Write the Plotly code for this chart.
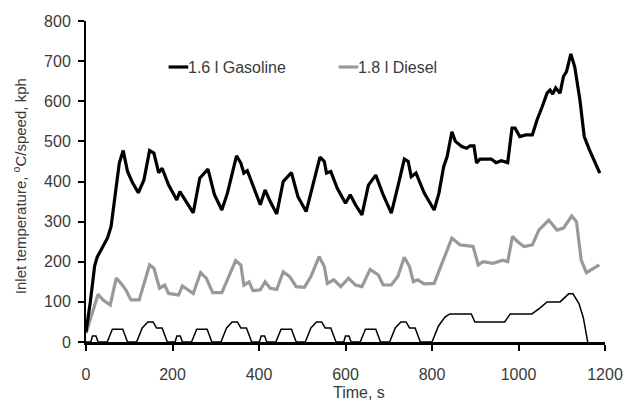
import plotly.graph_objects as go

# Gasoline (1.6 l) inlet temperature, degC
gas_t = [0, 10, 20, 26, 36, 50, 58, 62, 70, 77, 86, 96, 108, 121, 134, 147, 157, 168, 176, 191,
         210, 217, 229, 248, 263, 282, 297, 314, 327, 348, 358, 365, 373, 388, 403, 414, 426, 441,
         456, 475, 490, 509, 524, 541, 551, 556, 566, 581, 600, 611, 623, 638, 653, 670, 687, 706,
         721, 736, 745, 752, 763, 782, 805, 816, 827, 835, 846, 854, 869, 880, 888, 897, 903, 911,
         937, 948, 960, 975, 985, 992, 1003, 1017, 1032, 1043, 1055, 1066, 1073, 1079, 1086, 1096,
         1104, 1111, 1121, 1130, 1142, 1152, 1164, 1188]
gas_v = [25, 100, 190, 212, 232, 260, 288, 321, 396, 446, 477, 425, 396, 372, 404, 477, 471, 422, 433, 391,
         354, 375, 354, 322, 408, 431, 367, 329, 371, 464, 446, 421, 427, 383, 342, 379, 350, 319,
         400, 422, 362, 325, 387, 461, 450, 421, 425, 383, 346, 367, 342, 317, 391, 416, 367, 321,
         387, 456, 450, 412, 421, 371, 329, 371, 437, 462, 524, 500, 487, 483, 489, 489, 446, 456,
         456, 447, 452, 447, 533, 533, 512, 516, 516, 554, 587, 620, 628, 618, 633, 620,
         662, 674, 718, 686, 603, 512, 479, 421]

# Diesel (1.8 l) inlet temperature, degC
die_t = [0, 17, 28, 39, 56, 70, 81, 92, 104, 123, 134, 147, 157, 170, 182, 191, 214, 223, 248, 265,
         278, 293, 314, 327, 346, 358, 365, 377, 386, 403, 414, 426, 441, 456, 471, 486, 505, 520,
         539, 551, 558, 573, 589, 607, 623, 638, 657, 676, 687, 706, 721, 736, 748, 757, 767, 782,
         805, 823, 846, 865, 895, 907, 918, 941, 964, 975, 986, 998, 1013, 1032, 1047, 1070, 1089,
         1104, 1123, 1134, 1145, 1157, 1168, 1187]
die_v = [22, 80, 119, 105, 92, 159, 146, 130, 105, 105, 146, 192, 184, 134, 142, 121, 117, 140, 121, 173,
         159, 123, 123, 155, 203, 192, 142, 150, 128, 130, 150, 134, 131, 175, 163, 138, 136, 163,
         213, 188, 146, 155, 138, 159, 142, 138, 181, 167, 142, 142, 163, 211, 188, 150, 155, 145,
         146, 196, 259, 242, 238, 192, 200, 196, 204, 200, 263, 250, 238, 242, 279, 304, 279,
         284, 314, 300, 204, 173, 180, 192]

# Vehicle speed, kph (NEDC)
spd_t = [0, 11, 15, 23, 28, 49, 61, 85, 96, 117, 130, 143, 155, 163, 176, 188,
         195, 206, 210, 218, 223, 244, 256, 280, 291, 312, 325, 338, 350, 358, 371, 383,
         390, 401, 405, 413, 418, 439, 451, 475, 486, 507, 520, 533, 545, 553, 566, 578,
         585, 596, 600, 608, 613, 634, 646, 670, 681, 702, 715, 728, 740, 748, 761, 773,
         800, 815, 830, 841, 891, 899, 968, 981, 1031, 1050, 1066, 1096, 1116, 1126, 1140, 1150, 1160]
spd_v = [0, 0, 15, 15, 0, 0, 32, 32, 0, 0, 35, 50, 50, 35, 35, 0,
         0, 0, 15, 15, 0, 0, 32, 32, 0, 0, 35, 50, 50, 35, 35, 0,
         0, 0, 15, 15, 0, 0, 32, 32, 0, 0, 35, 50, 50, 35, 35, 0,
         0, 0, 15, 15, 0, 0, 32, 32, 0, 0, 35, 50, 50, 35, 35, 0,
         0, 40, 62, 70, 70, 50, 50, 70, 70, 85, 100, 100, 120, 120, 95, 60, 0]

x_ticks = [0, 200, 400, 600, 800, 1000, 1200]
y_ticks = [0, 100, 200, 300, 400, 500, 600, 700, 800]

FONT = "Liberation Sans, Arial, sans-serif"
TXT = "#3a3a3a"

fig = go.Figure()
fig.add_trace(go.Scatter(x=spd_t, y=spd_v, mode="lines",
                         line=dict(color="black", width=1.5), showlegend=False))
fig.add_trace(go.Scatter(x=die_t, y=die_v, mode="lines",
                         line=dict(color="#999999", width=3.2), showlegend=False))
fig.add_trace(go.Scatter(x=gas_t, y=gas_v, mode="lines",
                         line=dict(color="black", width=3.2), showlegend=False))

fig.update_layout(
    width=635, height=401,
    margin=dict(l=86, r=21, t=21, b=59),
    paper_bgcolor="white", plot_bgcolor="white",
    font=dict(family=FONT, size=16, color=TXT),
    showlegend=False,
)
fig.update_xaxes(range=[0, 1200], tickvals=x_ticks, ticks="outside", ticklen=6,
                 tickwidth=2, tickcolor="black", showline=True, linecolor="black",
                 linewidth=3, showgrid=False, zeroline=False, ticklabelstandoff=10,
                 tickfont=dict(size=16, color=TXT, family=FONT))
fig.update_yaxes(range=[0, 800], tickvals=y_ticks, ticks="outside", ticklen=6,
                 tickwidth=2, tickcolor="black", showline=True, linecolor="black",
                 linewidth=2, showgrid=False, zeroline=False, ticklabelstandoff=4,
                 tickfont=dict(size=16, color=TXT, family=FONT))

# axis titles
fig.add_annotation(text="Time, s", xref="paper", yref="paper", x=(364 - 86) / 528,
                   y=-(393 - 342) / 321, showarrow=False, xanchor="center", yanchor="middle",
                   font=dict(size=16, color=TXT, family=FONT))
fig.add_annotation(text="Inlet temperature, <sup>o</sup>C/speed, kph", xref="paper", yref="paper",
                   x=(19 - 86) / 528, y=(342 - 186) / 321, showarrow=False, textangle=-90,
                   xanchor="center", yanchor="middle", font=dict(size=15, color=TXT, family=FONT))

# manual legend
legend_items = [("1.6 l Gasoline", "black", 170), ("1.8 l Diesel", "#999999", 343)]
ly = (342 - 67) / 321
for name, col, px in legend_items:
    x0 = (px - 86) / 528
    x1 = (px + 20 - 86) / 528
    fig.add_shape(type="line", xref="paper", yref="paper", x0=x0, x1=x1, y0=ly, y1=ly,
                  line=dict(color=col, width=3.2))
    fig.add_annotation(text=name, xref="paper", yref="paper", x=x1, y=ly, showarrow=False,
                       xanchor="left", yanchor="middle", xshift=-2,
                       font=dict(size=16, color=TXT, family=FONT))

fig.write_html("out.html")
